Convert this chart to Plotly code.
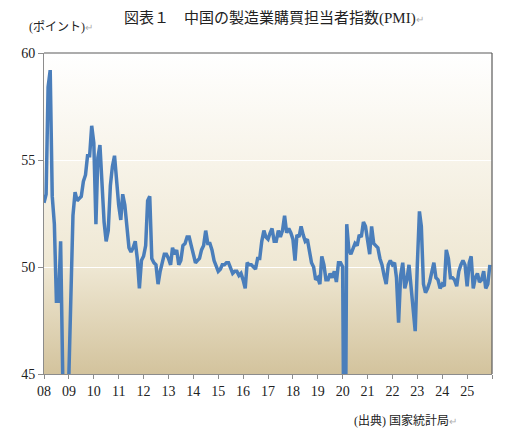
import base64
import pandas as pd
import plotly.graph_objects as go

# monthly manufacturing PMI
pmi_2008 = [53.0, 53.4, 58.4, 59.2, 53.3, 52.0, 48.4, 48.4, 51.2, 44.6, 38.8, 41.2]
pmi_2009 = [45.3, 49.0, 52.4, 53.5, 53.1, 53.2, 53.3, 54.0, 54.3, 55.2, 55.2, 56.6]
pmi_2010 = [55.8, 52.0, 55.1, 55.7, 53.9, 52.1, 51.2, 51.7, 53.8, 54.7, 55.2, 53.9]
pmi_2011 = [52.9, 52.2, 53.4, 52.9, 52.0, 50.9, 50.7, 50.9, 51.2, 50.4, 49.0, 50.3]
pmi_2012 = [50.5, 51.0, 53.1, 53.3, 50.4, 50.2, 50.1, 49.2, 49.8, 50.2, 50.6, 50.6]
pmi_2013 = [50.4, 50.1, 50.9, 50.6, 50.8, 50.1, 50.3, 51.0, 51.1, 51.4, 51.4, 51.0]
pmi_2014 = [50.5, 50.2, 50.3, 50.4, 50.8, 51.0, 51.7, 51.1, 51.1, 50.8, 50.3, 50.1]
pmi_2015 = [49.8, 49.9, 50.1, 50.1, 50.2, 50.2, 50.0, 49.7, 49.8, 49.8, 49.6, 49.7]
pmi_2016 = [49.4, 49.0, 50.2, 50.1, 50.1, 50.0, 49.9, 50.4, 50.4, 51.2, 51.7, 51.4]
pmi_2017 = [51.3, 51.6, 51.8, 51.2, 51.2, 51.7, 51.4, 51.7, 52.4, 51.6, 51.8, 51.6]
pmi_2018 = [51.3, 50.3, 51.5, 51.4, 51.9, 51.5, 51.2, 51.3, 50.8, 50.2, 50.0, 49.4]
pmi_2019 = [49.5, 49.2, 50.5, 50.1, 49.4, 49.4, 49.7, 49.5, 49.8, 49.3, 50.2, 50.2]
pmi_2020 = [50.0, 35.7, 52.0, 50.8, 50.6, 50.9, 51.1, 51.0, 51.5, 51.4, 52.1, 51.9]
pmi_2021 = [51.3, 50.6, 51.9, 51.1, 51.0, 50.9, 50.4, 50.1, 49.6, 49.2, 50.1, 50.3]
pmi_2022 = [50.1, 50.2, 49.5, 47.4, 49.6, 50.2, 49.0, 49.4, 50.1, 49.2, 48.0, 47.0]
pmi_2023 = [50.1, 52.6, 51.9, 49.2, 48.8, 49.0, 49.3, 49.7, 50.2, 49.5, 49.4, 49.0]
pmi_2024 = [49.2, 49.1, 50.8, 50.4, 49.5, 49.5, 49.4, 49.1, 49.8, 50.1, 50.3, 50.1]
pmi_2025 = [49.1, 50.2, 50.5, 49.0, 49.5, 49.7, 49.3, 49.4, 49.8, 49.0, 49.2, 50.1]

year_ticks = [str(y) + "-01-01" for y in range(2008, 2027)]
year_labels = ["08", "09", "10", "11", "12", "13", "14", "15", "16", "17",
               "18", "19", "20", "21", "22", "23", "24", "25", ""]

pmi = (pmi_2008 + pmi_2009 + pmi_2010 + pmi_2011 + pmi_2012 + pmi_2013
       + pmi_2014 + pmi_2015 + pmi_2016 + pmi_2017 + pmi_2018 + pmi_2019
       + pmi_2020 + pmi_2021 + pmi_2022 + pmi_2023 + pmi_2024 + pmi_2025)
months = pd.date_range("2008-01-01", periods=len(pmi), freq="MS")

# gradient background (white -> beige) as an inline svg image
svg = ('<svg xmlns="http://www.w3.org/2000/svg" width="100" height="100" preserveAspectRatio="none">'
       '<defs><linearGradient id="g" x1="0" y1="0" x2="0" y2="1">'
       '<stop offset="0" stop-color="#ffffff"/>'
       '<stop offset="0.35" stop-color="#f7f3e8"/>'
       '<stop offset="0.66" stop-color="#efe8d4"/>'
       '<stop offset="1" stop-color="#d3c39d"/>'
       '</linearGradient></defs>'
       '<rect width="100" height="100" fill="url(#g)"/></svg>')
bg_src = "data:image/svg+xml;base64," + base64.b64encode(svg.encode()).decode()

fig = go.Figure()
fig.add_trace(go.Scatter(x=months, y=pmi, mode="lines",
                         line=dict(color="#4a7ebb", width=3.5), hoverinfo="skip"))

font_fam = "Liberation Serif, Noto Sans CJK JP"
mark = '<span style="color:#b0b0b0;font-size:10px">↵</span>'

fig.update_layout(
    width=518, height=433,
    margin=dict(l=44, r=26, t=53, b=59),
    paper_bgcolor="white", plot_bgcolor="rgba(0,0,0,0)",
    showlegend=False,
    font=dict(family=font_fam, color="#222222"),
    images=[dict(source=bg_src, xref="paper", yref="paper", x=0, y=1,
                 sizex=1, sizey=1, xanchor="left", yanchor="top",
                 sizing="stretch", layer="below")],
    shapes=[
        dict(type="line", xref="paper", yref="paper", x0=0, x1=1, y0=1, y1=1,
             line=dict(color="#5a5a5a", width=1.2)),
        dict(type="line", xref="paper", yref="paper", x0=1, x1=1, y0=0, y1=1,
             line=dict(color="#5a5a5a", width=1.2)),
    ],
    annotations=[
        dict(text="図表１　中国の製造業購買担当者指数(PMI)" + mark, xref="paper", yref="paper",
             x=(122 - 44) / 448, y=1 + 35 / 321, xanchor="left", yanchor="middle",
             showarrow=False, font=dict(size=15, family=font_fam, color="#222222")),
        dict(text="(ポイント)" + mark, xref="paper", yref="paper",
             x=(27 - 44) / 448, y=1 + 26 / 321, xanchor="left", yanchor="middle",
             showarrow=False, font=dict(size=12, family=font_fam, color="#222222")),
        dict(text="(出典) 国家統計局" + mark, xref="paper", yref="paper",
             x=(352 - 44) / 448, y=-(420 - 374) / 321, xanchor="left", yanchor="middle",
             showarrow=False, font=dict(size=12, family=font_fam, color="#222222")),
    ],
)

fig.update_xaxes(type="date", range=["2008-01-01", "2026-01-01"],
                 tickvals=year_ticks, ticktext=year_labels,
                 showgrid=False, zeroline=False,
                 showline=True, linecolor="#8c8c8c", linewidth=1,
                 ticks="outside", ticklen=4, tickcolor="#8c8c8c",
                 tickfont=dict(size=14, family=font_fam, color="#222222"))
fig.update_yaxes(range=[45, 60], tickvals=[45, 50, 55, 60],
                 showgrid=True, gridcolor="#ffffff", gridwidth=1, zeroline=False,
                 showline=True, linecolor="#8c8c8c", linewidth=1,
                 ticks="outside", ticklen=5, tickcolor="#8c8c8c",
                 tickfont=dict(size=14, family=font_fam, color="#222222"))

# the page's default body margin would push the chart 8px off; drop it
fig.write_html("out.html", config={"displayModeBar": False},
               post_script="document.body.style.margin = '0';")
